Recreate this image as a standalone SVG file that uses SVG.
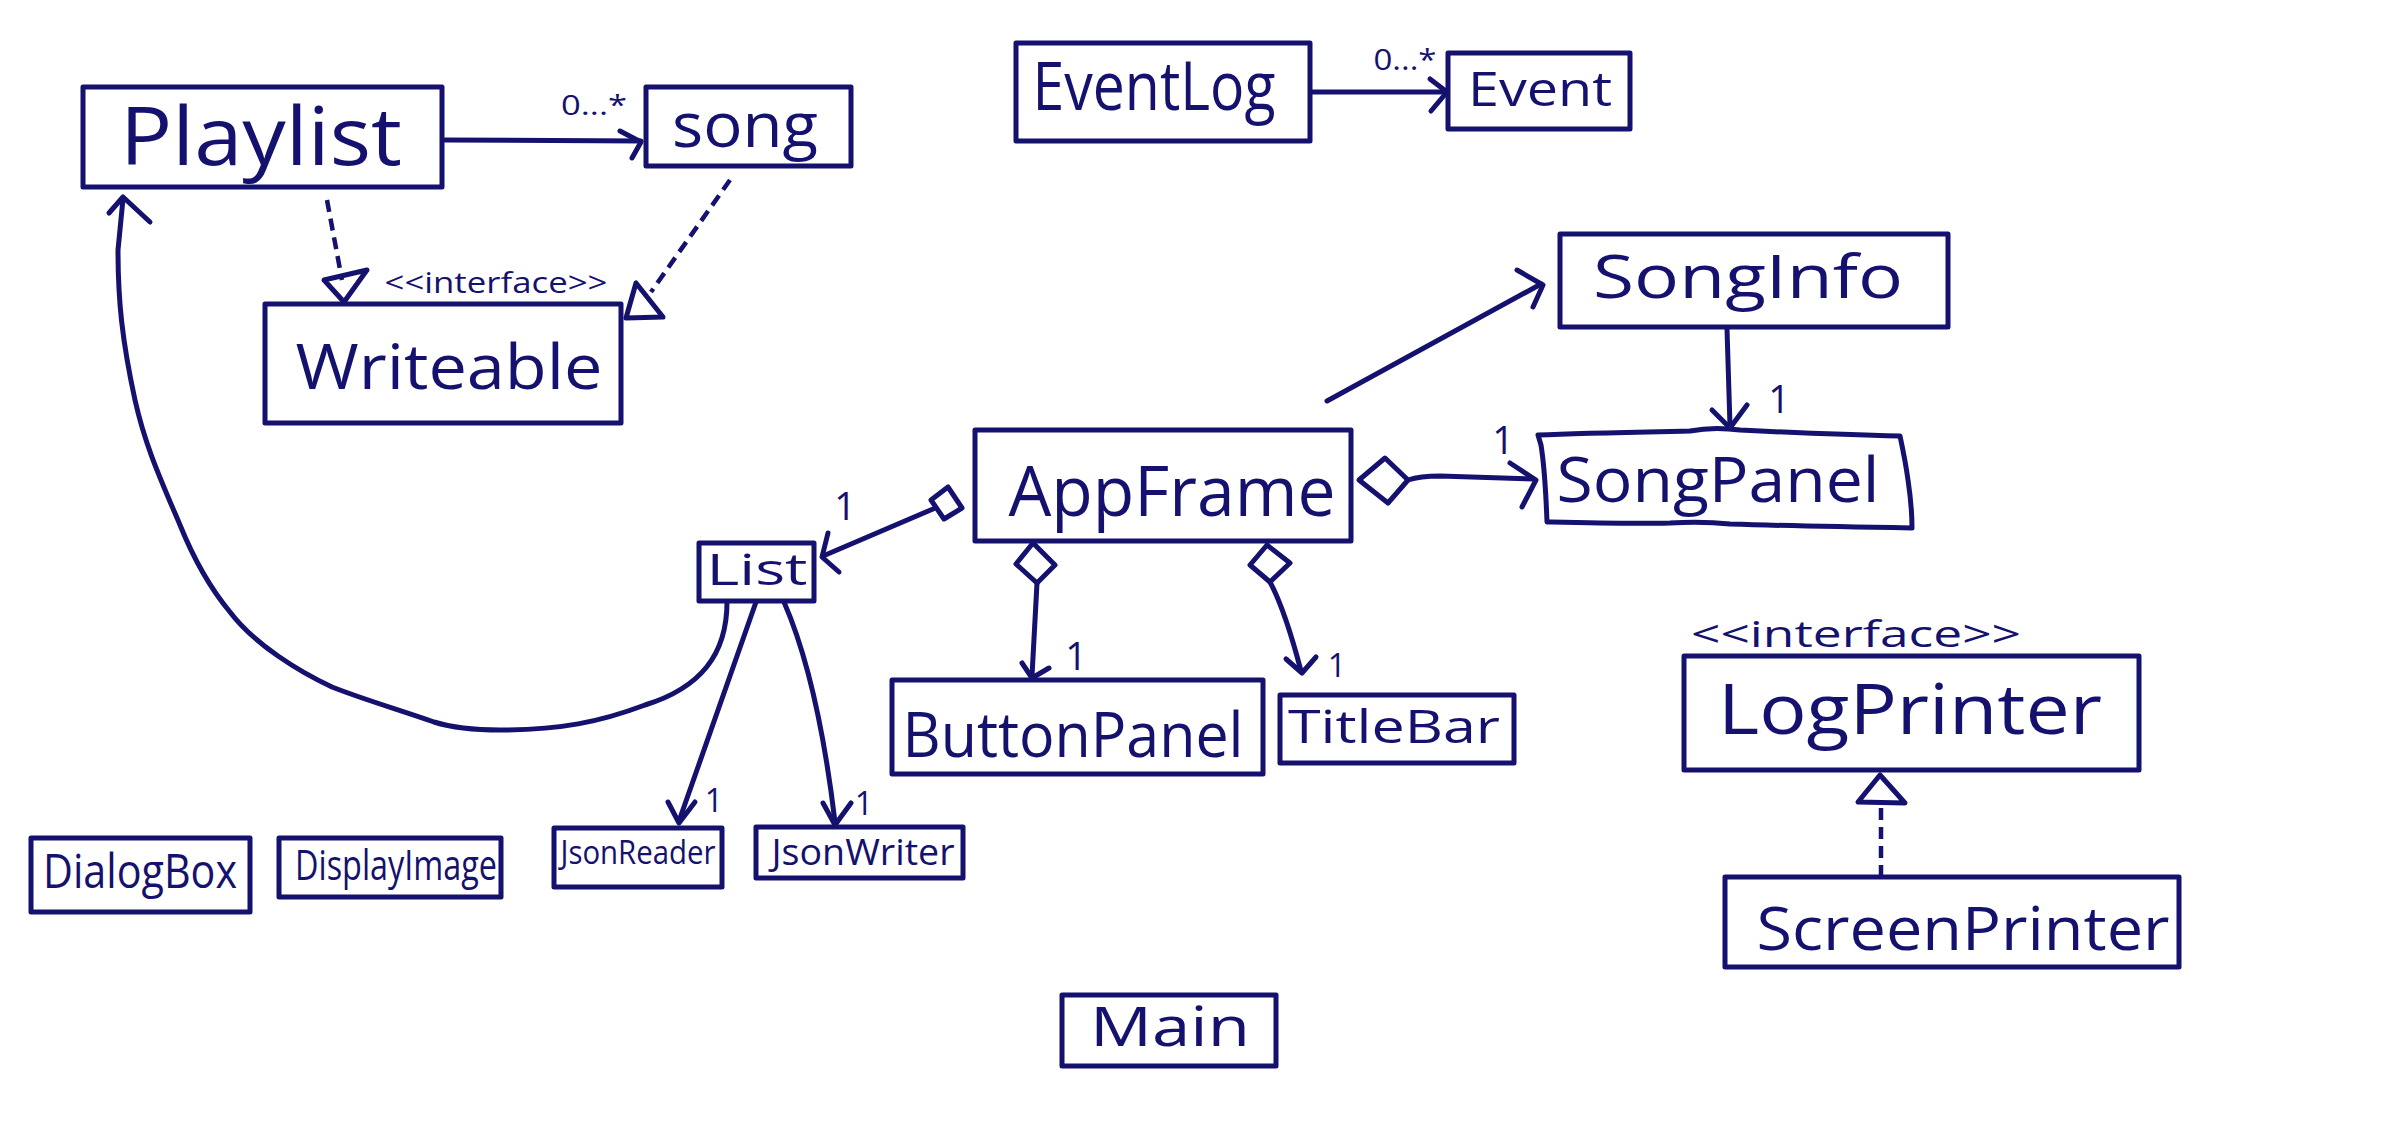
<svg xmlns="http://www.w3.org/2000/svg" width="2396" height="1144" viewBox="0 0 2396 1144">
<style>
.box{fill:#fff;stroke:#15116e;stroke-width:5;stroke-linejoin:round}
.ln{fill:none;stroke:#15116e;stroke-width:5;stroke-linecap:round;stroke-linejoin:round}
.dash{fill:none;stroke:#15116e;stroke-width:4.5;stroke-dasharray:12 7}
.dia{fill:#fff;stroke:#15116e;stroke-width:5;stroke-linejoin:round}
.t{font-family:"Open Sans","Liberation Sans",sans-serif;fill:#15116e;text-anchor:middle;font-weight:500}
</style>
<rect width="2396" height="1144" fill="#fff"/>
<g id="connectors">
  <!-- Playlist -> song -->
  <line class="ln" x1="445" y1="140" x2="641" y2="141"/>
  <polyline class="ln" points="620,131 641,142 632,158"/>
  <text class="t" x="594" y="115" font-size="28" textLength="66" lengthAdjust="spacingAndGlyphs">0...*</text>
  <!-- Playlist -> Writeable (realization) -->
  <line class="dash" x1="327" y1="200" x2="342" y2="280"/>
  <polygon class="ln" points="324,280 367,270 344,302"/>
  <!-- song -> Writeable (realization) -->
  <line class="dash" x1="730" y1="180" x2="651" y2="292"/>
  <polygon class="ln" points="636,283 626,318 663,317"/>
  <!-- EventLog -> Event -->
  <line class="ln" x1="1310" y1="92" x2="1446" y2="92"/>
  <polyline class="ln" points="1430,79 1447,92 1431,111"/>
  <text class="t" x="1405" y="70" font-size="30" textLength="63" lengthAdjust="spacingAndGlyphs">0...*</text>
  <!-- AppFrame -> SongInfo -->
  <line class="ln" x1="1327" y1="401" x2="1541" y2="284"/>
  <polyline class="ln" points="1517,270 1543,285 1533,307"/>
  <!-- SongInfo -> SongPanel -->
  <line class="ln" x1="1727" y1="329" x2="1730" y2="426"/>
  <polyline class="ln" points="1712,410 1730,428 1747,405"/>
  <text class="t" x="1779" y="413" font-size="38">1</text>
  <!-- AppFrame <>-> SongPanel -->
  <polygon class="dia" points="1385,458 1408,480 1388,503 1359,480"/>
  <path class="ln" d="M1408,480 Q1420,476 1440,476 L1534,479"/>
  <polyline class="ln" points="1510,463 1536,480 1522,507"/>
  <text class="t" x="1503" y="454" font-size="38">1</text>
  <!-- AppFrame <>-> List -->
  <polygon class="dia" points="948,487 962,508 944,519 931,500"/>
  <line class="ln" x1="933" y1="509" x2="823" y2="556"/>
  <polyline class="ln" points="828,533 822,557 839,572"/>
  <text class="t" x="845" y="520" font-size="38">1</text>
  <!-- AppFrame <>-> ButtonPanel -->
  <polygon class="dia" points="1033,543 1055,565 1037,583 1016,564"/>
  <line class="ln" x1="1037" y1="583" x2="1032" y2="676"/>
  <polyline class="ln" points="1022,663 1032,678 1049,668"/>
  <text class="t" x="1076" y="670" font-size="38">1</text>
  <!-- AppFrame <>-> TitleBar -->
  <polygon class="dia" points="1267,545 1290,563 1270,582 1250,565"/>
  <path class="ln" d="M1270,582 Q1285,610 1301,671"/>
  <polyline class="ln" points="1286,659 1302,673 1316,657"/>
  <text class="t" x="1337" y="677" font-size="32">1</text>
  <!-- List -> Playlist -->
  <path class="ln" d="M727,602 C727,655 700,688 645,705 C600,722 560,730 500,730 C470,730 450,727 434,722 C400,710 365,700 332,687 C300,672 255,645 230,612 C210,588 195,562 180,525 C160,478 145,445 135,400 C122,340 118,300 118,250 L123,199"/>
  <polyline class="ln" points="109,213 123,197 150,222"/>
  <!-- List -> JsonReader -->
  <path class="ln" d="M756,602 Q722,700 679,821"/>
  <polyline class="ln" points="668,802 679,823 695,802"/>
  <text class="t" x="714" y="812" font-size="32">1</text>
  <!-- List -> JsonWriter -->
  <path class="ln" d="M784,602 Q818,680 835,822"/>
  <polyline class="ln" points="823,803 835,825 851,803"/>
  <text class="t" x="864" y="815" font-size="32">1</text>
  <!-- ScreenPrinter -> LogPrinter (realization) -->
  <line class="dash" x1="1881" y1="877" x2="1881" y2="803"/>
  <polygon class="ln" points="1880,775 1858,802 1905,803"/>
</g>
<g id="Playlist">
  <rect class="box" x="83" y="87" width="359" height="100"/>
  <text class="t" x="261" y="165" font-size="80" textLength="282" lengthAdjust="spacingAndGlyphs">Playlist</text>
</g>
<g id="song">
  <rect class="box" x="646" y="87" width="205" height="79"/>
  <text class="t" x="745" y="147" font-size="62" textLength="146" lengthAdjust="spacingAndGlyphs">song</text>
</g>
<g id="Writeable">
  <text class="t" x="496" y="293" font-size="30" textLength="223" lengthAdjust="spacingAndGlyphs">&lt;&lt;interface&gt;&gt;</text>
  <rect class="box" x="265" y="304" width="356" height="119"/>
  <text class="t" x="449" y="389" font-size="62" textLength="307" lengthAdjust="spacingAndGlyphs">Writeable</text>
</g>
<g id="EventLog">
  <rect class="box" x="1016" y="43" width="294" height="98"/>
  <text class="t" x="1154" y="110" font-size="68" textLength="243" lengthAdjust="spacingAndGlyphs">EventLog</text>
</g>
<g id="Event">
  <rect class="box" x="1448" y="53" width="182" height="76"/>
  <text class="t" x="1540" y="106" font-size="48" textLength="144" lengthAdjust="spacingAndGlyphs">Event</text>
</g>
<g id="SongInfo">
  <rect class="box" x="1560" y="234" width="388" height="93"/>
  <text class="t" x="1748" y="298" font-size="60" textLength="310" lengthAdjust="spacingAndGlyphs">SongInfo</text>
</g>
<g id="SongPanel">
  <path class="box" d="M1538,435 C1580,433 1640,432 1690,431 C1705,428 1725,428 1740,430 C1800,433 1850,435 1900,436 C1903,450 1906,465 1908,480 C1911,500 1912,515 1912,528 C1850,527 1790,526 1730,524 C1710,522 1690,522 1670,523 C1630,524 1590,523 1547,522 C1546,495 1545,470 1541,445 Z"/>
  <text class="t" x="1718" y="502" font-size="62" textLength="323" lengthAdjust="spacingAndGlyphs">SongPanel</text>
</g>
<g id="AppFrame">
  <rect class="box" x="975" y="430" width="376" height="111"/>
  <text class="t" x="1172" y="516" font-size="70" textLength="327" lengthAdjust="spacingAndGlyphs">AppFrame</text>
</g>
<g id="List">
  <rect class="box" x="699" y="543" width="115" height="58"/>
  <text class="t" x="757" y="585" font-size="44" textLength="101" lengthAdjust="spacingAndGlyphs">List</text>
</g>
<g id="ButtonPanel">
  <rect class="box" x="892" y="680" width="371" height="94"/>
  <text class="t" x="1073" y="757" font-size="62" textLength="341" lengthAdjust="spacingAndGlyphs">ButtonPanel</text>
</g>
<g id="TitleBar">
  <rect class="box" x="1280" y="695" width="234" height="68"/>
  <text class="t" x="1394" y="743" font-size="46" textLength="212" lengthAdjust="spacingAndGlyphs">TitleBar</text>
</g>
<g id="JsonReader">
  <rect class="box" x="554" y="828" width="168" height="59"/>
  <text class="t" x="638" y="864" font-size="32" textLength="155" lengthAdjust="spacingAndGlyphs">JsonReader</text>
</g>
<g id="JsonWriter">
  <rect class="box" x="756" y="827" width="207" height="51"/>
  <text class="t" x="863" y="865" font-size="36" textLength="183" lengthAdjust="spacingAndGlyphs">JsonWriter</text>
</g>
<g id="DialogBox">
  <rect class="box" x="31" y="838" width="219" height="74"/>
  <text class="t" x="140" y="888" font-size="48" textLength="194" lengthAdjust="spacingAndGlyphs">DialogBox</text>
</g>
<g id="DisplayImage">
  <rect class="box" x="279" y="838" width="222" height="59"/>
  <text class="t" x="396" y="880" font-size="42" textLength="202" lengthAdjust="spacingAndGlyphs">DisplayImage</text>
</g>
<g id="LogPrinter">
  <text class="t" x="1856" y="647" font-size="36" textLength="330" lengthAdjust="spacingAndGlyphs">&lt;&lt;interface&gt;&gt;</text>
  <rect class="box" x="1684" y="656" width="455" height="114"/>
  <text class="t" x="1910" y="734" font-size="70" textLength="384" lengthAdjust="spacingAndGlyphs">LogPrinter</text>
</g>
<g id="ScreenPrinter">
  <rect class="box" x="1725" y="877" width="454" height="90"/>
  <text class="t" x="1963" y="950" font-size="60" textLength="413" lengthAdjust="spacingAndGlyphs">ScreenPrinter</text>
</g>
<g id="Main">
  <rect class="box" x="1062" y="995" width="214" height="71"/>
  <text class="t" x="1170" y="1046" font-size="54" textLength="160" lengthAdjust="spacingAndGlyphs">Main</text>
</g>
</svg>
